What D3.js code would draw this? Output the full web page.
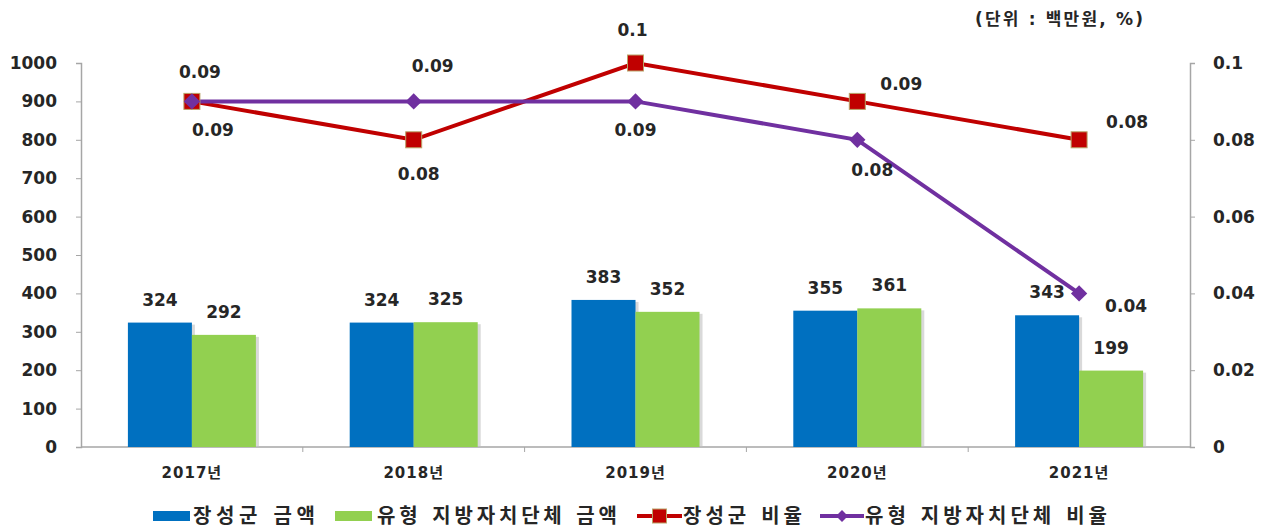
<!DOCTYPE html>
<html>
<head>
<meta charset="utf-8">
<script src="https://cdn.jsdelivr.net/npm/d3@7"></script>
<style>
  body { margin: 0; background: #fff; }
  svg text { font-family: "DejaVu Sans", "Noto Sans CJK KR", sans-serif; font-weight: bold; fill: #262626; }
</style>
</head>
<body>
<svg></svg>
<script>
const width = 1269;
const height = 527;

// ---- data ----
const years = ["2017년", "2018년", "2019년", "2020년", "2021년"];
const jsAmount = [324, 324, 383, 355, 343];      // 장성군 금액
const typeAmount = [292, 325, 352, 361, 199];    // 유형 지방자치단체 금액
const jsRatio = [0.09, 0.08, 0.1, 0.09, 0.08];   // 장성군 비율
const typeRatio = [0.09, 0.09, 0.09, 0.08, 0.04];// 유형 지방자치단체 비율
const leftTicks = [0, 100, 200, 300, 400, 500, 600, 700, 800, 900, 1000];
const rightTicks = [0, 0.02, 0.04, 0.06, 0.08, 0.1];

// label offsets for line values (px, from the point)
const jsLabelOff = [[21, 30], [5, 35], [-3, -32], [44, -16], [48, -17]];
const typeLabelOff = [[8, -28], [19, -34], [0, 30], [15, 31], [47, 14]];

const COLORS = { blue: "#0070C0", green: "#92D050", red: "#C00000", purple: "#7030A0" };

const M = { left: 81, right: 1190, top: 63, bottom: 447 };

const svg = d3.select("svg").attr("width", width).attr("height", height);

const x = d3.scaleBand().domain(years).range([M.left, M.right]);
const yL = d3.scaleLinear().domain([0, 1000]).range([M.bottom, M.top]);
const yR = d3.scaleLinear().domain([0, 0.1]).range([M.bottom, M.top]);
const cx = d => x(d) + x.bandwidth() / 2;

/* unit label */
svg.append("text")
  .attr("x", 975).attr("y", 25)
  .attr("textLength", 168).attr("lengthAdjust", "spacing")
  .style("font-size", "17px")
  .text("(단위 : 백만원, %)");

/* axes */
const axisColor = "#a6a6a6";

const gL = svg.append("g").attr("transform", `translate(${M.left},0)`)
  .call(d3.axisLeft(yL).tickValues(leftTicks).tickSize(5).tickPadding(19).tickFormat(d3.format("d")));
const gR = svg.append("g").attr("transform", `translate(${M.right},0)`)
  .call(d3.axisRight(yR).tickValues(rightTicks).tickSize(5).tickPadding(18)
    .tickFormat(d => d === 0 ? "0" : d3.format("~g")(+d.toFixed(2))));
[gL, gR].forEach(g => {
  g.select(".domain").attr("stroke", axisColor).attr("stroke-width", 1.5);
  g.selectAll(".tick line").attr("stroke", axisColor);
  g.selectAll(".tick text").style("font-size", "17px").attr("fill", "#262626");
});

const gX = svg.append("g").attr("transform", `translate(0,${M.bottom})`);
gX.append("line").attr("x1", M.left).attr("x2", M.right)
  .attr("stroke", axisColor).attr("stroke-width", 1.5);
gX.selectAll("line.tk").data(years.slice(1)).enter().append("line")
  .attr("class", "tk")
  .attr("x1", d => x(d)).attr("x2", d => x(d))
  .attr("y1", 0).attr("y2", 5).attr("stroke", axisColor);
gX.selectAll("text").data(years).enter().append("text")
  .attr("x", cx).attr("y", 31)
  .attr("text-anchor", "middle")
  .style("font-size", "15px")
  .style("letter-spacing", "1px")
  .text(d => d);

/* bars */
const bw = 64;
const bars = svg.append("g");
const series = [
  { vals: jsAmount, color: COLORS.blue, off: -bw },
  { vals: typeAmount, color: COLORS.green, off: 0 }
];
series.forEach(s => {
  // soft shadow
  bars.append("g").selectAll("rect").data(years).enter().append("rect")
    .attr("x", (d, i) => cx(d) + s.off + 3)
    .attr("y", (d, i) => yL(s.vals[i]) + 2)
    .attr("width", bw)
    .attr("height", (d, i) => M.bottom - yL(s.vals[i]) - 2)
    .attr("fill", "#bfbfbf").attr("opacity", 0.6);
  bars.append("g").selectAll("rect").data(years).enter().append("rect")
    .attr("x", (d, i) => cx(d) + s.off)
    .attr("y", (d, i) => yL(s.vals[i]))
    .attr("width", bw)
    .attr("height", (d, i) => M.bottom - yL(s.vals[i]))
    .attr("fill", s.color);
  bars.append("g").selectAll("text").data(years).enter().append("text")
    .attr("x", (d, i) => cx(d) + s.off + bw / 2)
    .attr("y", (d, i) => yL(s.vals[i]) - 22)
    .attr("text-anchor", "middle")
    .attr("dominant-baseline", "middle")
    .style("font-size", "17px")
    .text((d, i) => s.vals[i]);
});

/* lines */
const line = d3.line().x((d, i) => cx(years[i])).y(d => yR(d));

svg.append("path").datum(jsRatio)
  .attr("d", line).attr("fill", "none")
  .attr("stroke", COLORS.red).attr("stroke-width", 4);
svg.append("path").datum(typeRatio)
  .attr("d", line).attr("fill", "none")
  .attr("stroke", COLORS.purple).attr("stroke-width", 4);

svg.append("g").selectAll("rect").data(jsRatio).enter().append("rect")
  .attr("x", (d, i) => cx(years[i]) - 8)
  .attr("y", d => yR(d) - 8)
  .attr("width", 16).attr("height", 16)
  .attr("fill", COLORS.red).attr("stroke", "#b9a46a").attr("stroke-width", 1);

const diamond = d3.symbol().type(d3.symbolDiamond2).size(170);
svg.append("g").selectAll("path").data(typeRatio).enter().append("path")
  .attr("d", diamond)
  .attr("transform", (d, i) => `translate(${cx(years[i])},${yR(d)})`)
  .attr("fill", COLORS.purple);

const fmt = d => d3.format("~g")(d);
svg.append("g").selectAll("text").data(jsRatio).enter().append("text")
  .attr("x", (d, i) => cx(years[i]) + jsLabelOff[i][0])
  .attr("y", (d, i) => yR(d) + jsLabelOff[i][1])
  .attr("text-anchor", "middle").attr("dominant-baseline", "middle")
  .style("font-size", "17px")
  .text(fmt);
svg.append("g").selectAll("text").data(typeRatio).enter().append("text")
  .attr("x", (d, i) => cx(years[i]) + typeLabelOff[i][0])
  .attr("y", (d, i) => yR(d) + typeLabelOff[i][1])
  .attr("text-anchor", "middle").attr("dominant-baseline", "middle")
  .style("font-size", "17px")
  .text(fmt);

/* legend */
const legend = svg.append("g").attr("transform", "translate(0,516)");
const items = [
  { name: "장성군 금액", type: "bar", color: COLORS.blue, x: 153, tx: 193, tw: 122 },
  { name: "유형 지방자치단체 금액", type: "bar", color: COLORS.green, x: 335, tx: 377, tw: 240 },
  { name: "장성군 비율", type: "sq", color: COLORS.red, x: 637, tx: 683, tw: 119 },
  { name: "유형 지방자치단체 비율", type: "dia", color: COLORS.purple, x: 820, tx: 865, tw: 242 }
];
items.forEach(it => {
  const g = legend.append("g");
  if (it.type === "bar") {
    g.append("rect").attr("x", it.x).attr("y", -5).attr("width", 37).attr("height", 10).attr("fill", it.color);
  } else {
    g.append("line").attr("x1", it.x).attr("x2", it.tx - 1).attr("y1", 0).attr("y2", 0)
      .attr("stroke", it.color).attr("stroke-width", 4);
    const mid = (it.x + it.tx - 1) / 2;
    if (it.type === "sq") {
      g.append("rect").attr("x", mid - 7).attr("y", -7).attr("width", 14).attr("height", 14)
        .attr("fill", it.color).attr("stroke", "#b9a46a");
    } else {
      g.append("path").attr("d", d3.symbol().type(d3.symbolDiamond2).size(90))
        .attr("transform", `translate(${mid},0)`).attr("fill", it.color);
    }
  }
  g.append("text")
    .attr("x", it.tx).attr("y", 1)
    .attr("dominant-baseline", "middle")
    .attr("textLength", it.tw).attr("lengthAdjust", "spacing")
    .style("font-size", "20px")
    .text(it.name);
});
</script>
</body>
</html>
